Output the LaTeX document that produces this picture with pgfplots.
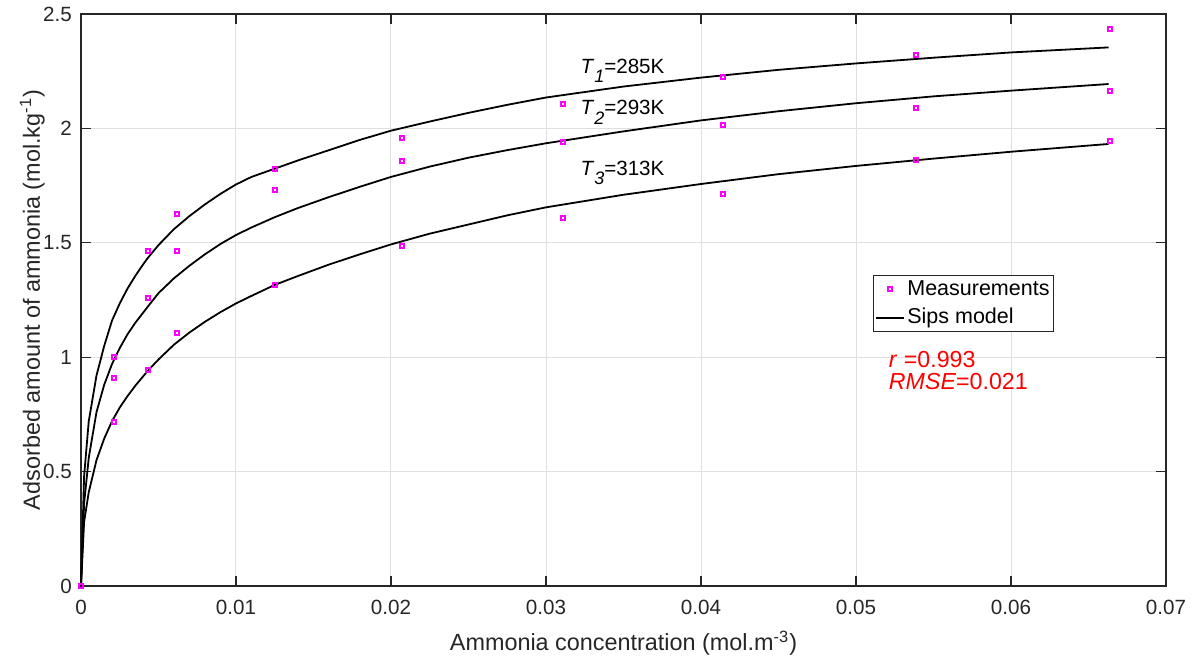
\documentclass[border=0pt]{standalone}
\usepackage{pgfplots}
\pgfplotsset{compat=1.18}
\usepackage{fontspec}
\setmainfont{Liberation Sans}

\definecolor{axgray}{RGB}{38,38,38}
\definecolor{gridgray}{RGB}{223,223,223}
\definecolor{mkmag}{RGB}{255,0,255}
\definecolor{txtred}{RGB}{255,0,0}

\newcommand\tickfont{\fontsize{10.3}{12}\selectfont}
\newcommand\legfont{\fontsize{10.75}{12}\selectfont}
\newcommand\redfont{\fontsize{11.6}{13}\selectfont}
\newcommand\labfont{\fontsize{11.7}{13}\selectfont}
\newcommand\sub[1]{\raisebox{-4.6pt}{\fontsize{9}{10}\selectfont\textit{#1}}}

\pgfplotsset{
  markleg/.style={legend image code/.code={\draw[mark repeat=2,mark phase=2,##1] plot coordinates {(0pt,0pt) (7pt,0pt) (14pt,0pt)};}},
  lineleg/.style={legend image code/.code={\draw[##1] (0pt,0pt) -- (14pt,0pt);}},
}

\begin{document}
\begin{tikzpicture}
\begin{axis}[
  scale only axis, width=542.5pt, height=286pt,
  xmin=0, xmax=0.07, ymin=0, ymax=2.5,
  xtick={0,0.01,0.02,0.03,0.04,0.05,0.06,0.07},
  ytick={0,0.5,1,1.5,2,2.5},
  scaled x ticks=false, scaled y ticks=false,
  /pgf/number format/assume math mode=true,
  xticklabel style={/pgf/number format/fixed, /pgf/number format/precision=2,
    anchor=base, yshift=-14pt},
  yticklabel style={/pgf/number format/fixed, /pgf/number format/precision=1,
    xshift=-1.1pt},
  ticklabel style={font=\tickfont, text=axgray},
  tick align=inside, xtick pos=both, ytick pos=both,
  major tick length=5pt,
  tick style={color=axgray, line width=0.6pt},
  axis line style={color=axgray, line width=0.6pt},
  grid=major, major grid style={color=gridgray, line width=0.5pt},
  xlabel={Ammonia concentration (mol.m\textsuperscript{-3})},
  ylabel={Adsorbed amount of ammonia (mol.kg\textsuperscript{-1})},
  every axis x label/.style={at={(axis description cs:0.5,-0.1136)}, anchor=base,
    font=\labfont, text=axgray},
  every axis y label/.style={at={(axis description cs:-0.038,0.5)}, rotate=90,
    anchor=base, font=\labfont, text=axgray},
  clip=false,
  legend cell align=left,
  legend style={at={(axis cs:0.0511,1.359)}, anchor=north west,
    draw=axgray, line width=0.5pt, fill=white,
    inner xsep=1pt, inner ysep=1pt, row sep=2.5pt,
    nodes={inner sep=1pt, text height=7.8pt, text depth=2pt, font=\legfont}},
]

% measurements, all three temperatures
\addplot[only marks, mark=square, mark size=1pt, color=mkmag, mark options={line width=1pt}, markleg]
coordinates {
  (0,0)
  (0.0021,1.000) (0.0021,0.909) (0.0021,0.717)
  (0.0043,1.464) (0.0043,1.259) (0.0043,0.944)
  (0.0062,1.626) (0.0062,1.464) (0.0062,1.106)
  (0.0125,1.823) (0.0125,1.731) (0.0125,1.316)
  (0.0207,1.958) (0.0207,1.857) (0.0207,1.486)
  (0.0311,2.107) (0.0311,1.941) (0.0311,1.608)
  (0.0414,2.225) (0.0414,2.015) (0.0414,1.713)
  (0.0539,2.321) (0.0539,2.089) (0.0539,1.862)
  (0.0664,2.434) (0.0664,2.163) (0.0664,1.945)
};
\addlegendentry{Measurements}

% Sips model, T1 = 285 K
\addplot[color=black, line width=0.9pt, lineleg]
coordinates {
  (0,0) (0.0002,0.48) (0.0005,0.72) (0.001,0.92) (0.0015,1.05) (0.002,1.16)
  (0.0025,1.235) (0.003,1.30) (0.0035,1.355) (0.004,1.405) (0.0043,1.433)
  (0.005,1.49) (0.006,1.56) (0.007,1.617) (0.008,1.668) (0.009,1.714)
  (0.01,1.755) (0.011,1.788) (0.0125,1.824) (0.014,1.86) (0.016,1.905)
  (0.018,1.95) (0.02,1.99) (0.0225,2.03) (0.025,2.068) (0.0275,2.103)
  (0.03,2.135) (0.035,2.183) (0.04,2.222) (0.045,2.256) (0.05,2.284)
  (0.055,2.309) (0.06,2.332) (0.0663,2.354)
};
\addlegendentry{Sips model}

% T2 = 293 K
\addplot[color=black, line width=0.9pt, forget plot]
coordinates {
  (0,0) (0.0002,0.36) (0.0005,0.56) (0.001,0.76) (0.0015,0.88) (0.002,0.97)
  (0.0025,1.04) (0.003,1.10) (0.0035,1.15) (0.0043,1.22) (0.005,1.28)
  (0.006,1.345) (0.007,1.40) (0.008,1.45) (0.009,1.495) (0.01,1.534)
  (0.011,1.567) (0.0125,1.612) (0.014,1.652) (0.016,1.70) (0.018,1.745)
  (0.02,1.788) (0.0225,1.833) (0.025,1.872) (0.0275,1.905) (0.03,1.935)
  (0.035,1.987) (0.04,2.035) (0.045,2.075) (0.05,2.11) (0.055,2.14)
  (0.06,2.165) (0.0663,2.194)
};

% T3 = 313 K
\addplot[color=black, line width=0.9pt, forget plot]
coordinates {
  (0,0) (0.0002,0.28) (0.0005,0.41) (0.001,0.55) (0.0015,0.645) (0.002,0.72)
  (0.0025,0.78) (0.003,0.83) (0.0035,0.875) (0.0043,0.94) (0.005,0.99)
  (0.006,1.055) (0.007,1.108) (0.008,1.155) (0.009,1.197) (0.01,1.235)
  (0.011,1.268) (0.0125,1.316) (0.014,1.355) (0.016,1.405) (0.018,1.45)
  (0.02,1.493) (0.0225,1.54) (0.025,1.58) (0.0275,1.62) (0.03,1.655)
  (0.035,1.71) (0.04,1.757) (0.045,1.80) (0.05,1.836) (0.055,1.868)
  (0.06,1.898) (0.0663,1.932)
};

\node[anchor=base west, font=\tickfont, inner sep=0pt] at (axis cs:0.0322,2.242) {\textit{T}\sub{1}=285K};
\node[anchor=base west, font=\tickfont, inner sep=0pt] at (axis cs:0.0322,2.059) {\textit{T}\sub{2}=293K};
\node[anchor=base west, font=\tickfont, inner sep=0pt] at (axis cs:0.0322,1.796) {\textit{T}\sub{3}=313K};

\node[anchor=base west, font=\redfont, text=txtred, inner sep=0pt] at (axis cs:0.0521,0.957) {\textit{r} =0.993};
\node[anchor=base west, font=\redfont, text=txtred, inner sep=0pt] at (axis cs:0.0521,0.858) {\textit{RMSE}=0.021};
\end{axis}
\pgfresetboundingbox
\path[use as bounding box] (-40.5pt,-37pt) rectangle (556.5pt,293pt);
\end{tikzpicture}
\end{document}
